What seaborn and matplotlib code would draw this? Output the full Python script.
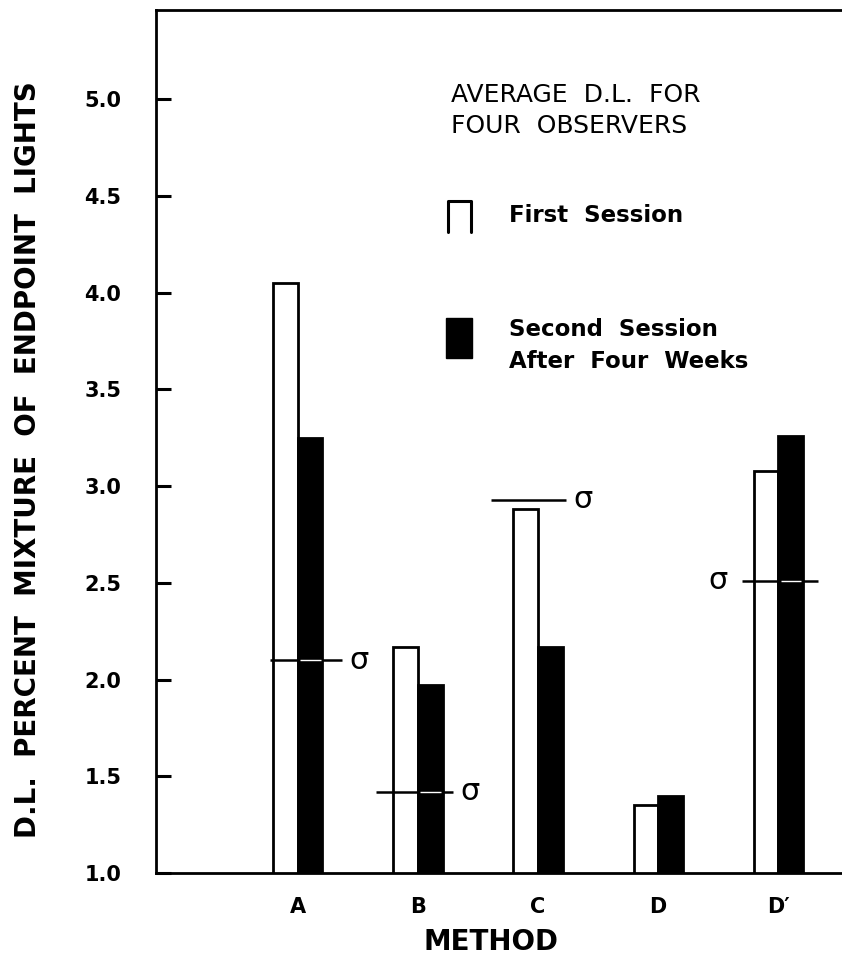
import numpy as np
import pandas as pd
import seaborn as sns
import matplotlib.pyplot as plt
from matplotlib.patches import Rectangle
from matplotlib.lines import Line2D

# data
methods = ["A", "B", "C", "D", "D\u2032"]
first_session = [4.05, 2.17, 2.88, 1.35, 3.08]
second_session = [3.25, 1.97, 2.17, 1.40, 3.26]
sigma_values = [2.10, 1.42, 2.93, 2.51]
sigma_methods = ["A", "B", "C", "D\u2032"]
yticks = [1.0, 1.5, 2.0, 2.5, 3.0, 3.5, 4.0, 4.5, 5.0]
ytick_labels = ["1.0", "1.5", "2.0", "2.5", "3.0", "3.5", "4.0", "4.5", "5.0"]

df = pd.DataFrame({
    "method": methods * 2,
    "value": first_session + second_session,
    "session": ["First"] * len(methods) + ["Second"] * len(methods),
})

sns.set_style("white")
plt.rcParams["font.family"] = ["DejaVu Sans"]
plt.rcParams["text.color"] = "black"
plt.rcParams["axes.labelcolor"] = "black"
plt.rcParams["xtick.color"] = "black"
plt.rcParams["ytick.color"] = "black"

W, H = 842, 960
fig = plt.figure(figsize=(W / 100, H / 100), dpi=100)
ax = fig.add_axes([156 / W, 1 - 873 / H, 1 - 156 / W, (873 - 10) / H])

sns.barplot(data=df, x="method", y="value", hue="session",
            palette={"First": "white", "Second": "black"},
            edgecolor="black", linewidth=2, width=0.41, gap=0,
            legend=False, ax=ax)

ax.set_ylim(1.0, 5.46)
ax.set_xlim(-1.18, 4.53)

# sigma marks: line extent (left, right offset from group centre) and label side
sigma_layout = [(-0.23, 0.37, "right"), (-0.35, 0.29, "right"),
                (-0.39, 0.23, "right"), (-0.30, 0.33, "left")]
for m, s, (lo, hi, side) in zip(sigma_methods, sigma_values, sigma_layout):
    i = methods.index(m)
    ax.hlines(s, i + lo, i + hi, color="black", lw=1.8, zorder=5)
    # white line where it crosses the black bar
    if s < second_session[i]:
        ax.hlines(s, i + 0.02, i + 0.19, color="white", lw=1.0, zorder=6)
    if side == "right":
        ax.text(i + hi + 0.06, s, "\u03c3", fontsize=22, va="center", ha="left")
    else:
        ax.text(i + lo - 0.12, s, "\u03c3", fontsize=22, va="center", ha="right")

ax.set_yticks(yticks)
ax.set_yticklabels(ytick_labels, fontsize=15, fontweight="bold")
ax.tick_params(axis="y", direction="in", length=11, width=2.2, pad=25, left=True)
ax.tick_params(axis="x", length=0, pad=17, labelsize=15)
for lbl in ax.get_xticklabels():
    lbl.set_fontweight("bold")

ax.set_xlabel("METHOD", fontsize=20, fontweight="bold")
ax.set_ylabel("D.L.  PERCENT  MIXTURE  OF  ENDPOINT  LIGHTS", fontsize=20,
              fontweight="bold")
ax.xaxis.set_label_coords((491 - 156) / (W - 156), -(942 - 873) / (873 - 10))
ax.xaxis.label.set_va("center")
ax.yaxis.set_label_coords(-(156 - 28) / (W - 156), (873 - 460) / (873 - 10))
ax.yaxis.label.set_va("center")

for side in ["left", "top", "bottom"]:
    ax.spines[side].set_visible(True)
    ax.spines[side].set_color("black")
    ax.spines[side].set_linewidth(2)
ax.spines["right"].set_visible(False)

# legend block drawn as in the original
def fx(x):
    return x / W

def fy(y):
    return 1 - y / H

fig.text(fx(451), fy(95), "AVERAGE  D.L.  FOR", fontsize=18, va="center", ha="left")
fig.text(fx(451), fy(126), "FOUR  OBSERVERS", fontsize=18, va="center", ha="left")

fig.add_artist(Line2D([fx(448), fx(448), fx(471), fx(471)],
                      [fy(232), fy(201), fy(201), fy(232)],
                      color="black", lw=2.2, transform=fig.transFigure))
fig.text(fx(509), fy(216), "First  Session", fontsize=16.5, fontweight="bold",
         va="center", ha="left")

fig.add_artist(Rectangle((fx(446), fy(358)), fx(26), 40 / H, color="black",
                         transform=fig.transFigure))
fig.text(fx(509), fy(330), "Second  Session", fontsize=16.5, fontweight="bold",
         va="center", ha="left")
fig.text(fx(509), fy(362), "After  Four  Weeks", fontsize=16.5, fontweight="bold",
         va="center", ha="left")

fig.savefig("out.png", dpi=100)
